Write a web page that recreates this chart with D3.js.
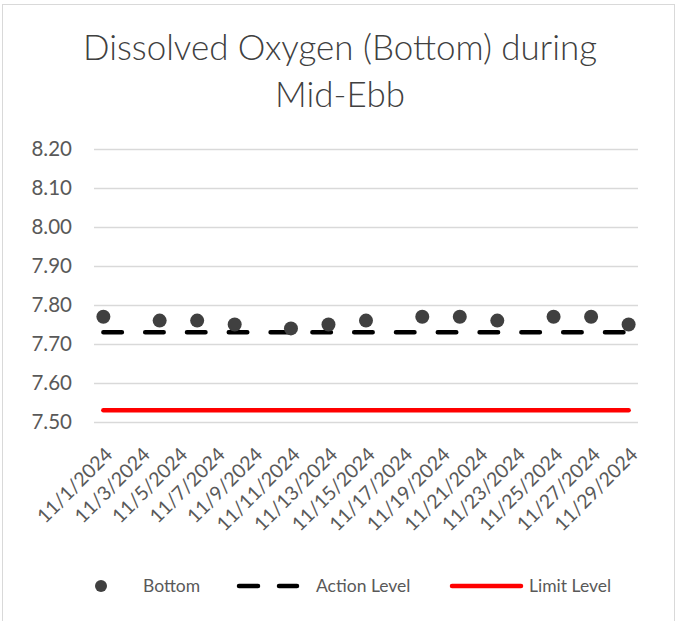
<!DOCTYPE html>
<html><head><meta charset="utf-8">
<script src="https://cdn.jsdelivr.net/npm/d3@7"></script>
<style>
html,body{margin:0;padding:0;background:#fff;}
svg{display:block;}
text{font-family:Lato,"Open Sans",sans-serif;}
</style></head>
<body>
<svg id="chart" width="677" height="621"></svg>
<script>
const titleLines = ["Dissolved Oxygen (Bottom) during", "Mid-Ebb"];
const tickLabels = ["11/1/2024","11/3/2024","11/5/2024","11/7/2024","11/9/2024","11/11/2024","11/13/2024","11/15/2024","11/17/2024","11/19/2024","11/21/2024","11/23/2024","11/25/2024","11/27/2024","11/29/2024"];
const sampleDates = ["11/1/2024","11/4/2024","11/6/2024","11/8/2024","11/11/2024","11/13/2024","11/15/2024","11/18/2024","11/20/2024","11/22/2024","11/25/2024","11/27/2024","11/29/2024"];
const bottom = [7.77,7.76,7.76,7.75,7.74,7.75,7.76,7.77,7.77,7.76,7.77,7.77,7.75];
const actionLevel = [7.73,7.73,7.73,7.73,7.73,7.73,7.73,7.73,7.73,7.73,7.73,7.73,7.73];
const limitLevel = [7.53,7.53,7.53,7.53,7.53,7.53,7.53,7.53,7.53,7.53,7.53,7.53,7.53];
const yTicks = [7.50,7.60,7.70,7.80,7.90,8.00,8.10,8.20];
const legendLabels = ["Bottom","Action Level","Limit Level"];

const svg = d3.select("#chart");
const parse = d3.timeParse("%m/%d/%Y");
const noon = s => d3.timeHour.offset(parse(s), 12);

const x = d3.scaleTime()
  .domain([parse("11/1/2024"), parse("11/30/2024")])
  .range([94, 638]);
const y = d3.scaleLinear().domain([7.5, 8.2]).range([422, 149]);

// border
svg.append("rect").attr("x",2.5).attr("y",4.5).attr("width",672).attr("height",630)
  .attr("fill","none").attr("stroke","#d9d9d9").attr("stroke-width",1);

// title
const title = svg.append("text").attr("text-anchor","middle").attr("fill","#404040")
  .style("font-size","34px").style("font-weight","300");
const t1 = title.append("tspan").attr("x",340).attr("y",60).text(titleLines[0]);
title.append("tspan").attr("x",340).attr("y",107).text(titleLines[1]);
const w1 = t1.node().getComputedTextLength();
title.style("font-size", (34*514/w1).toFixed(2)+"px");

// y axis with gridlines
const yAxis = svg.append("g").attr("transform","translate(94,0)")
  .call(d3.axisLeft(y).tickValues(yTicks).tickFormat(d3.format(".2f")).tickSize(-544).tickPadding(22));
yAxis.select(".domain").remove();
yAxis.selectAll(".tick line").attr("stroke","#d9d9d9").attr("stroke-width",1.3);
yAxis.selectAll(".tick text").attr("fill","#595959").style("font-size","20.5px");

// x axis
const xAxis = svg.append("g").attr("transform","translate(0,422)")
  .call(d3.axisBottom(x).tickValues(tickLabels.map(noon)).tickFormat(d3.timeFormat("%-m/%-d/%Y")).tickSize(0));
xAxis.select(".domain").remove();
xAxis.selectAll(".tick text")
  .attr("fill","#595959").style("font-size","19.5px")
  .attr("text-anchor","end")
  .attr("transform","translate(5,29) rotate(-45)")
  .attr("dy","0.35em").attr("y",0);

// limit level
const line = d3.line().x((d,i)=>x(noon(sampleDates[i]))).y(d=>y(d));
svg.append("path").datum(limitLevel).attr("d",line)
  .attr("fill","none").attr("stroke","#ff0000").attr("stroke-width",4.5).attr("stroke-linecap","round");

// action level
svg.append("path").datum(actionLevel).attr("d",line)
  .attr("fill","none").attr("stroke","#000").attr("stroke-width",4.5)
  .attr("stroke-linecap","round").attr("stroke-dasharray","18.5,23.3");

// points
svg.append("g").selectAll("circle").data(bottom.map((v,i)=>({v,d:sampleDates[i]})))
  .join("circle").attr("cx",o=>x(noon(o.d))).attr("cy",o=>y(o.v)).attr("r",7).attr("fill","#404040");

// legend
const lg = svg.append("g").style("font-size","17.5px");
lg.append("circle").attr("cx",101).attr("cy",586).attr("r",6).attr("fill","#404040");
lg.append("text").attr("x",143).attr("y",592).attr("fill","#595959").text(legendLabels[0]);
lg.append("line").attr("x1",239).attr("x2",297).attr("y1",586).attr("y2",586)
  .attr("stroke","#000").attr("stroke-width",4.5).attr("stroke-linecap","round").attr("stroke-dasharray","19,21");
lg.append("text").attr("x",316).attr("y",592).attr("fill","#595959").text(legendLabels[1]);
lg.append("line").attr("x1",452).attr("x2",521).attr("y1",586).attr("y2",586)
  .attr("stroke","#ff0000").attr("stroke-width",4.5).attr("stroke-linecap","round");
lg.append("text").attr("x",529).attr("y",592).attr("fill","#595959").text(legendLabels[2]);
</script>
</body></html>
